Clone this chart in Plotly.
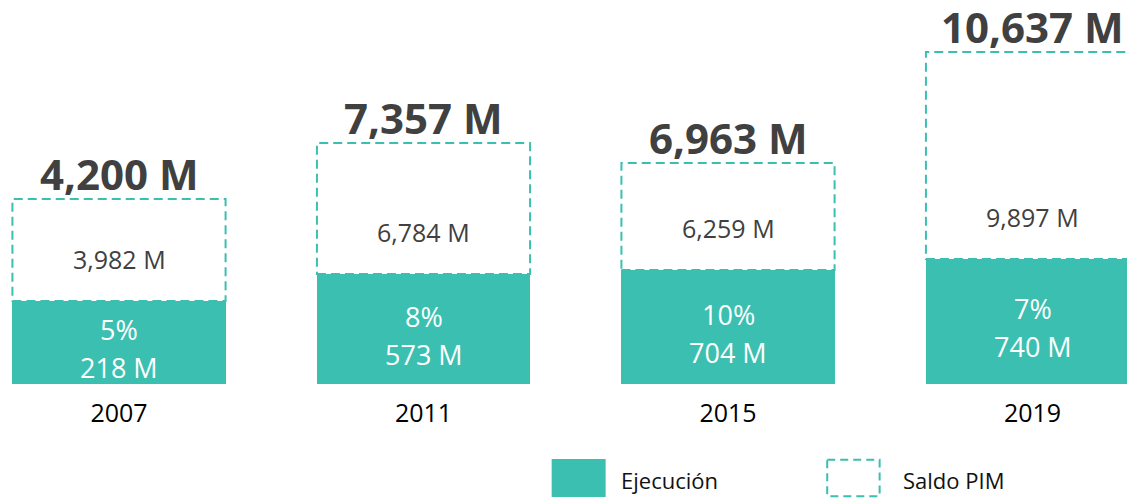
import plotly.graph_objects as go

# ---- data ----
years = ["2007", "2011", "2015", "2019"]
ejecucion = ["218 M", "573 M", "704 M", "740 M"]          # executed amount
porcentaje = ["5%", "8%", "10%", "7%"]                     # execution share
saldo_pim = ["3,982 M", "6,784 M", "6,259 M", "9,897 M"]  # remaining PIM
total_pim = ["4,200 M", "7,357 M", "6,963 M", "10,637 M"]  # total PIM
# drawn (not-to-scale) bar heights as they appear in the picture
ejec_bar = [83, 110, 114, 125]
saldo_bar = [102, 131, 107, 207]

TEAL = "#3BBFB0"
DARK = "#404040"
FONT = "Open Sans"
W = 0.70
STEP = 304.5      # pixels per category
X0 = 119.0        # pixel position of first category

fig = go.Figure()
fig.add_trace(go.Bar(x=years, y=ejec_bar, width=W, marker=dict(color=TEAL, line=dict(width=0)),
                     name="Ejecución", hoverinfo="skip"))
fig.add_trace(go.Bar(x=years, y=saldo_bar, width=W, marker=dict(color="rgba(0,0,0,0)", line=dict(width=0)),
                     name="Saldo PIM", hoverinfo="skip"))

for i, yr in enumerate(years):
    top = ejec_bar[i] + saldo_bar[i]
    fig.add_shape(type="rect", xref="x", yref="y", x0=i - W / 2, x1=i + W / 2,
                  y0=ejec_bar[i], y1=top, layer="below",
                  line=dict(color=TEAL, width=2, dash="9px,5px"), fillcolor="rgba(0,0,0,0)")
    # total label
    fig.add_annotation(x=i, y=top, text="<b>" + total_pim[i] + "</b>", showarrow=False,
                       yanchor="bottom", yshift=-5, font=dict(family=FONT, size=42, color=DARK))
    # saldo label
    fig.add_annotation(x=i, y=ejec_bar[i], text=saldo_pim[i], showarrow=False,
                       yanchor="middle", yshift=42, font=dict(family=FONT, size=25, color=DARK))
    # ejecucion labels
    mid = ejec_bar[i] / 2
    fig.add_annotation(x=i, y=mid, text=porcentaje[i], showarrow=False,
                       yanchor="middle", yshift=13, font=dict(family=FONT, size=27, color="white"))
    fig.add_annotation(x=i, y=mid, text=ejecucion[i], showarrow=False,
                       yanchor="middle", yshift=-25, font=dict(family=FONT, size=27, color="white"))

# legend (drawn manually to match the large swatches)
fig.add_shape(type="rect", xref="paper", yref="paper", x0=0.4895, x1=0.5374, y0=-0.1953, y1=-0.2943,
              fillcolor=TEAL, line=dict(width=0))
fig.add_shape(type="rect", xref="paper", yref="paper", x0=0.7340, x1=0.7805, y0=-0.1975, y1=-0.2920,
              fillcolor="rgba(0,0,0,0)", line=dict(color=TEAL, width=2, dash="8px,5px"))
fig.add_annotation(xref="paper", yref="paper", x=0.5495, y=-0.25, text="Ejecución", showarrow=False,
                   xanchor="left", yanchor="middle", font=dict(family=FONT, size=22, color="#111111"))
fig.add_annotation(xref="paper", yref="paper", x=0.7995, y=-0.25, text="Saldo PIM", showarrow=False,
                   xanchor="left", yanchor="middle", font=dict(family=FONT, size=22, color="#111111"))

fig.update_layout(
    width=1127, height=498,
    margin=dict(l=0, r=0, t=0, b=114),
    barmode="stack",
    showlegend=False,
    plot_bgcolor="white", paper_bgcolor="white",
    xaxis=dict(type="category", range=[-X0 / STEP, (1127 - X0) / STEP], showgrid=False, zeroline=False,
               showline=False, ticks="", ticklabelstandoff=12,
               tickfont=dict(family=FONT, size=25, color="black")),
    yaxis=dict(range=[0, 384], visible=False, showgrid=False, zeroline=False, fixedrange=True),
)

fig.write_html("out.html", config={"displayModeBar": False, "staticPlot": True},
               post_script="document.body.style.margin='0';document.body.style.overflow='hidden';")
